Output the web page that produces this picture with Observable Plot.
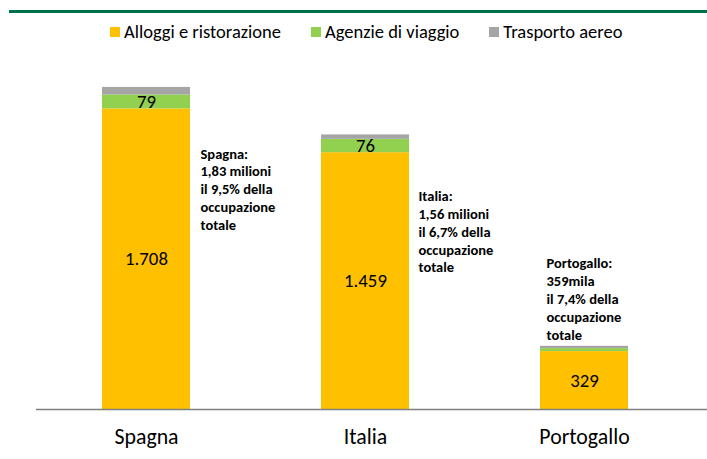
<!DOCTYPE html>
<html>
<head>
<meta charset="utf-8">
<script src="https://cdn.jsdelivr.net/npm/d3@7"></script>
<script src="https://cdn.jsdelivr.net/npm/@observablehq/plot@0.6"></script>
<style>
  body { margin: 0; background: #fff; font-family: Carlito, Calibri, Lato, sans-serif; color: #000; }
  #header { position: relative; width: 707px; height: 50px; }
  #rule { position: absolute; left: 9px; right: 0; top: 10px; height: 3px; background: #00704A; }
  #legend { position: absolute; top: 21px; left: 110px; display: flex; align-items: center; font-size: 18.5px; line-height: 22px; white-space: nowrap; }
  .item { display: flex; align-items: center; margin-right: 30px; }
  .sw { width: 10px; height: 10px; margin-right: 4px; }
  #chart svg { display: block; }
</style>
</head>
<body>
<div id="header"><div id="rule"></div><div id="legend"></div></div>
<div id="chart"></div>
<script>
const countries = ["Spagna", "Italia", "Portogallo"];
const series = ["Alloggi e ristorazione", "Agenzie di viaggio", "Trasporto aereo"];
const alloggi = [1708, 1459, 329];
const agenzie = [79, 76, 17];
const aereo = [43, 25, 13];
const colors = ["#FFC000", "#92D050", "#A5A5A5"];
const notes = [
  "Spagna:\n1,83 milioni\nil 9,5% della\noccupazione\ntotale",
  "Italia:\n1,56 milioni\nil 6,7% della\noccupazione\ntotale",
  "Portogallo:\n359mila\nil 7,4% della\noccupazione\ntotale"
];

const values = [alloggi, agenzie, aereo];
const rows = [];
series.forEach((s, si) => countries.forEach((c, ci) => rows.push({country: c, series: s, value: values[si][ci]})));
const totals = countries.map((c, i) => alloggi[i] + agenzie[i] + aereo[i]);

const it = d3.formatLocale({decimal: ",", thousands: ".", grouping: [3], currency: ["", "€"]});
const fmt = it.format(",d");

// legend
const legend = document.getElementById("legend");
series.forEach((s, i) => {
  const item = document.createElement("div");
  item.className = "item";
  const sw = document.createElement("span");
  sw.className = "sw";
  sw.style.background = colors[i];
  const t = document.createElement("span");
  t.textContent = s;
  item.append(sw, t);
  legend.append(item);
});

const noteLayout = [{dx: 54, dy: 58.5}, {dx: 53, dy: 53.5}, {dx: -38, dy: -90.5}];

const plot = Plot.plot({
  width: 707,
  height: 409,
  marginLeft: 36,
  marginRight: 0,
  marginTop: 7,
  marginBottom: 50,
  style: {fontFamily: "Carlito, Calibri, Lato, sans-serif", color: "#000", background: "#fff"},
  x: {domain: countries, paddingInner: 0.6, paddingOuter: 0.328, align: 0.451, label: null},
  y: {domain: [0, 2000], axis: null},
  color: {domain: series, range: colors},
  marks: [
    Plot.barY(rows, Plot.stackY({x: "country", y: "value", z: "series", fill: "series", order: series})),
    Plot.text(rows, Plot.stackY({
      x: "country", y: "value", z: "series", order: series,
      text: d => (d.series !== series[2] && d.value >= 50) ? fmt(d.value) : "",
      fontSize: 18.8, fill: "#000"
    })),
    Plot.ruleY([0], {stroke: "#7F7F7F", strokeWidth: 1.3}),
    ...countries.map((c, i) => Plot.text([i], {
      x: j => countries[j], y: j => totals[j], text: j => notes[j],
      dx: noteLayout[i].dx, dy: noteLayout[i].dy,
      textAnchor: "start", lineAnchor: "top", lineHeight: 1.23,
      fontSize: 14.5, fontWeight: "bold", fill: "#000"
    })),
    Plot.axisX({tickSize: 0, tickPadding: 19, fontSize: 21.8, label: null, fill: "#000"})
  ]
});
document.getElementById("chart").append(plot);
</script>
</body>
</html>
